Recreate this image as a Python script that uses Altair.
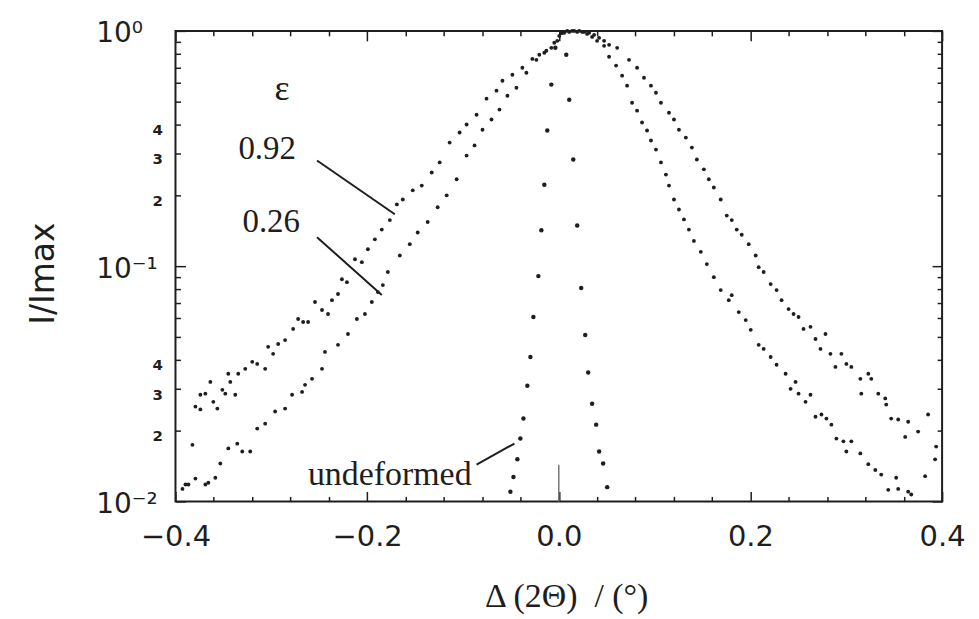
import altair as alt
import pandas as pd

# ---- data: (delta 2theta in deg, I/Imax) ----
pts_092 = [
    (-0.3823, 0.0174), (-0.3792, 0.0253), (-0.3740, 0.0284), (-0.3740, 0.0246), (-0.3688, 0.0287),
    (-0.3636, 0.0322), (-0.3605, 0.0265), (-0.3563, 0.0248), (-0.3511, 0.0298), (-0.3480, 0.0287),
    (-0.3449, 0.0349), (-0.3428, 0.0322), (-0.3376, 0.0284), (-0.3345, 0.0349), (-0.3272, 0.0366),
    (-0.3199, 0.0392), (-0.3147, 0.0384), (-0.3064, 0.0366), (-0.3033, 0.0454), (-0.2981, 0.0424),
    (-0.2928, 0.0467), (-0.2856, 0.0485), (-0.2772, 0.0541), (-0.2720, 0.0596), (-0.2668, 0.0579),
    (-0.2616, 0.0579), (-0.2544, 0.0704), (-0.2471, 0.0651), (-0.2408, 0.0626), (-0.2367, 0.0717),
    (-0.2304, 0.0761), (-0.2263, 0.0880), (-0.2211, 0.0855), (-0.2127, 0.107), (-0.2055, 0.104),
    (-0.1992, 0.118), (-0.1919, 0.130), (-0.1847, 0.143), (-0.1763, 0.157), (-0.1690, 0.183),
    (-0.1628, 0.192), (-0.1524, 0.210), (-0.1430, 0.220), (-0.1326, 0.250), (-0.1243, 0.276),
    (-0.1139, 0.335), (-0.1035, 0.370), (-0.0962, 0.400), (-0.0858, 0.440), (-0.0754, 0.515),
    (-0.0650, 0.557), (-0.0588, 0.614), (-0.0484, 0.651), (-0.0380, 0.697), (-0.0276, 0.760),
    (-0.0203, 0.792), (-0.0130, 0.823), (-0.0047, 0.890), (0.0005, 0.952), (0.0057, 0.981),
    (0.0109, 0.990), (0.0161, 1.0), (0.0213, 1.0), (0.0265, 0.990), (0.0317, 0.981),
    (0.0369, 0.962), (0.0421, 0.934), (0.0473, 0.907), (0.0525, 0.872), (0.0609, 0.847),
    (0.0733, 0.753), (0.0817, 0.697), (0.0889, 0.632), (0.0962, 0.585), (0.1014, 0.546),
    (0.1066, 0.495), (0.1150, 0.449), (0.1202, 0.420), (0.1254, 0.380), (0.1326, 0.352),
    (0.1389, 0.319), (0.1441, 0.284), (0.1514, 0.258), (0.1566, 0.234), (0.1618, 0.216),
    (0.1690, 0.192), (0.1753, 0.164), (0.1805, 0.157), (0.1857, 0.143), (0.1909, 0.136),
    (0.1982, 0.124), (0.2055, 0.111), (0.2086, 0.099), (0.2138, 0.0944), (0.2211, 0.0839),
    (0.2273, 0.0791), (0.2325, 0.0717), (0.2398, 0.0657), (0.2450, 0.0626), (0.2502, 0.0608),
    (0.2554, 0.0541), (0.2627, 0.0552), (0.2679, 0.0490), (0.2731, 0.0445), (0.2783, 0.0515),
    (0.2835, 0.0424), (0.2887, 0.0373), (0.2949, 0.0424), (0.3001, 0.0384), (0.3053, 0.0373),
    (0.3147, 0.0332), (0.3157, 0.0287), (0.3230, 0.0349), (0.3261, 0.0332), (0.3334, 0.0287),
    (0.3407, 0.0274), (0.3417, 0.0258), (0.3469, 0.0225), (0.3542, 0.0223), (0.3615, 0.0188),
    (0.3646, 0.0218), (0.3750, 0.0198), (0.3823, 0.0128), (0.3854, 0.0234), (0.3927, 0.0151),
    (0.3938, 0.0171),
]

pts_026 = [
    (-0.3927, 0.0113), (-0.3896, 0.0118), (-0.3865, 0.0118), (-0.3792, 0.0125), (-0.3688, 0.0118),
    (-0.3657, 0.0120), (-0.3584, 0.0126), (-0.3532, 0.0145), (-0.3449, 0.0168), (-0.3355, 0.0176),
    (-0.3303, 0.0163), (-0.3220, 0.0163), (-0.3147, 0.0204), (-0.3064, 0.0214), (-0.2960, 0.0241),
    (-0.2856, 0.0248), (-0.2783, 0.0284), (-0.2679, 0.0292), (-0.2648, 0.0313), (-0.2575, 0.0332),
    (-0.2471, 0.0366), (-0.2440, 0.0432), (-0.2304, 0.0463), (-0.2200, 0.0515), (-0.2107, 0.0596),
    (-0.2023, 0.0626), (-0.1951, 0.0704), (-0.1888, 0.0776), (-0.1836, 0.0831), (-0.1784, 0.0944),
    (-0.1659, 0.111), (-0.1555, 0.124), (-0.1472, 0.139), (-0.1368, 0.154), (-0.1264, 0.178),
    (-0.1170, 0.200), (-0.1066, 0.234), (-0.0962, 0.295), (-0.0879, 0.326), (-0.0796, 0.380),
    (-0.0702, 0.420), (-0.0619, 0.463), (-0.0536, 0.530), (-0.0442, 0.573), (-0.0338, 0.664),
    (-0.0234, 0.753), (-0.0151, 0.807), (-0.0078, 0.847), (-0.0016, 0.907), (0.0036, 0.981),
    (0.0088, 1.0), (0.0140, 1.0), (0.0192, 0.990), (0.0244, 0.990), (0.0296, 0.971),
    (0.0348, 0.943), (0.0400, 0.907), (0.0473, 0.864), (0.0525, 0.776), (0.0598, 0.712),
    (0.0661, 0.645), (0.0713, 0.585), (0.0765, 0.495), (0.0817, 0.458), (0.0869, 0.408),
    (0.0921, 0.377), (0.0962, 0.342), (0.1014, 0.313), (0.1066, 0.276), (0.1118, 0.245),
    (0.1150, 0.220), (0.1202, 0.192), (0.1254, 0.174), (0.1306, 0.158), (0.1358, 0.143),
    (0.1410, 0.128), (0.1482, 0.115), (0.1545, 0.102), (0.1618, 0.0898), (0.1690, 0.0791),
    (0.1774, 0.0717), (0.1805, 0.0753), (0.1878, 0.0638), (0.1951, 0.0590), (0.2003, 0.0536),
    (0.2086, 0.0463), (0.2138, 0.0445), (0.2211, 0.0411), (0.2273, 0.0381), (0.2367, 0.0349),
    (0.2419, 0.0301), (0.2471, 0.0322), (0.2502, 0.0287), (0.2575, 0.0265), (0.2627, 0.0284),
    (0.2679, 0.0229), (0.2741, 0.0234), (0.2793, 0.0225), (0.2845, 0.0212), (0.2897, 0.0185),
    (0.2970, 0.0180), (0.3001, 0.0163), (0.3053, 0.0180), (0.3147, 0.0160), (0.3230, 0.0144),
    (0.3303, 0.0136), (0.3365, 0.0130), (0.3438, 0.0112), (0.3521, 0.0126), (0.3542, 0.0113),
    (0.3646, 0.0110), (0.3678, 0.0107),
]

pts_und = [
    (-0.0505, 0.0110), (-0.0473, 0.0127), (-0.0432, 0.0151), (-0.0401, 0.0185), (-0.0369, 0.0225),
    (-0.0328, 0.0310), (-0.0296, 0.0411), (-0.0265, 0.0608), (-0.0213, 0.0907), (-0.0182, 0.142),
    (-0.0151, 0.222), (-0.0120, 0.377), (-0.0078, 0.591), (-0.0036, 0.847), (0.0026, 0.981),
    (0.0078, 0.792), (0.0109, 0.510), (0.0151, 0.284), (0.0192, 0.149), (0.0234, 0.0807),
    (0.0276, 0.0510), (0.0307, 0.0353), (0.0348, 0.0260), (0.0390, 0.0212), (0.0421, 0.0163),
    (0.0463, 0.0145), (0.0505, 0.0115),
]

# ---- axis tick values / labels ----
x_label_values = [-0.4, -0.2, 0.0, 0.2, 0.4]
x_tick_values = [-0.4, -0.36, -0.32, -0.28, -0.24, -0.2, -0.16, -0.12, -0.08, -0.04, 0.0,
                 0.04, 0.08, 0.12, 0.16, 0.2, 0.24, 0.28, 0.32, 0.36, 0.4]
y_tick_values = [0.01, 0.02, 0.03, 0.04, 0.05, 0.06, 0.07, 0.08, 0.09,
                 0.1, 0.2, 0.3, 0.4, 0.5, 0.6, 0.7, 0.8, 0.9, 1.0]

# ---- annotations ----
eps_text = [{"x": -0.2887, "y": 0.510, "t": "ε"}]
num_texts = [{"x": -0.3043, "y": 0.284, "t": "0.92"},
             {"x": -0.3001, "y": 0.1393, "t": "0.26"}]
und_text = [{"x": -0.0910, "y": 0.0117, "t": "undeformed"}]
leaders = [{"x": -0.2523, "y": 0.2813, "x2": -0.1711, "y2": 0.1661},
           {"x": -0.2523, "y": 0.1327, "x2": -0.1847, "y2": 0.0754},
           {"x": -0.0858, "y": 0.01435, "x2": -0.0463, "y2": 0.01762}]
zero_mark = [{"x": 0.0, "y": 0.01, "y2": 0.0143}]

W, H = 769, 472
INK = "#1e1e1e"

df092 = pd.DataFrame(pts_092, columns=["x", "i"])
df026 = pd.DataFrame(pts_026, columns=["x", "i"])
dfund = pd.DataFrame(pts_und, columns=["x", "i"])

xs = alt.Scale(domain=[-0.4, 0.4], nice=False, zero=False)
ys = alt.Scale(type="log", domain=[0.01, 1.0], nice=False)

DEC = "abs(log(datum.value)/LN10 - round(log(datum.value)/LN10)) < 0.001"
XMAJ = "abs(datum.value*5 - round(datum.value*5)) < 0.001"
MANT = "round(datum.value / pow(10, floor(log(datum.value)/LN10 + 0.0001)))"
y_label_expr = (
    "abs(datum.value-1) < 1e-6 ? '10⁰' : "
    "abs(datum.value-0.1) < 1e-6 ? '10⁻¹' : "
    "abs(datum.value-0.01) < 1e-6 ? '10⁻²' : "
    f"({MANT} <= 4 ? '' + {MANT} : '')"
)

x_main_axis = alt.Axis(
    values=x_label_values, format=".1f", ticks=False, tickSize=0, domain=False, grid=False,
    labelFont="DejaVu Sans", labelFontSize=29, labelColor=INK, labelPadding=21,
    labelFlush=False, labelOverlap=False,
    title="Δ (2Θ)\u00a0 / (°)", titleFont="Liberation Serif", titleFontSize=34,
    titleFontWeight="normal", titleColor=INK, titleX=392, titleY=105,
    titleBaseline="alphabetic", titleAlign="center", orient="bottom",
)
y_main_axis = alt.Axis(
    values=y_tick_values, labelExpr=y_label_expr, ticks=False, tickSize=0, domain=False, grid=False,
    labelFont="DejaVu Sans", labelColor=INK, labelFlush=False, labelOverlap=False,
    labelFontSize={"condition": {"test": DEC, "value": 28}, "value": 15},
    labelFontWeight={"condition": {"test": DEC, "value": "normal"}, "value": "bold"},
    labelAlign={"condition": {"test": DEC, "value": "left"}, "value": "right"},
    labelPadding={"condition": {"test": DEC, "value": 80}, "value": 13},
    labelOffset={"condition": {"test": DEC, "value": 3}, "value": 5},
    labelBaseline="middle",
    title="I/Imax", titleFont="DejaVu Sans", titleFontSize=33, titleFontWeight="normal",
    titleColor=INK, titleX=-122, titleY=243, titleBaseline="alphabetic", titleAlign="center",
    titleAngle=270, orient="left",
)


def tick_axis(orient, values, major_test, offset):
    return alt.Axis(
        orient=orient, offset=offset, values=values, labels=False, domain=False, grid=False,
        title=None, tickColor=INK, tickWidth=1.5,
        tickSize={"condition": {"test": major_test, "value": 10}, "value": 5},
    )


pt_main = alt.Chart(df092).mark_circle(size=15, color=INK, opacity=1).encode(
    x=alt.X("x:Q", scale=xs, axis=x_main_axis),
    y=alt.Y("i:Q", scale=ys, axis=y_main_axis),
)
pt_026 = alt.Chart(df026).mark_circle(size=15, color=INK, opacity=1).encode(
    x=alt.X("x:Q", scale=xs, axis=tick_axis("top", x_tick_values, XMAJ, -H)),
    y=alt.Y("i:Q", scale=ys, axis=tick_axis("right", y_tick_values, DEC, -W)),
)
pt_und = alt.Chart(dfund).mark_circle(size=20, color=INK, opacity=1).encode(
    x=alt.X("x:Q", scale=xs, axis=tick_axis("bottom", x_tick_values, XMAJ, -H)),
    y=alt.Y("i:Q", scale=ys, axis=tick_axis("left", y_tick_values, DEC, -W)),
)

lead = alt.Chart(pd.DataFrame(leaders)).mark_rule(color=INK, strokeWidth=2).encode(
    x=alt.X("x:Q", scale=xs, axis=None), x2="x2:Q",
    y=alt.Y("y:Q", scale=ys, axis=None), y2="y2:Q",
)
zero = alt.Chart(pd.DataFrame(zero_mark)).mark_rule(color="#777777", strokeWidth=1.5).encode(
    x=alt.X("x:Q", scale=xs, axis=None),
    y=alt.Y("y:Q", scale=ys, axis=None), y2="y2:Q",
)
t_eps = alt.Chart(pd.DataFrame(eps_text)).mark_text(
    font="Liberation Serif", fontSize=36, color=INK, align="center", baseline="alphabetic"
).encode(x=alt.X("x:Q", scale=xs, axis=None), y=alt.Y("y:Q", scale=ys, axis=None), text="t:N")
t_num = alt.Chart(pd.DataFrame(num_texts)).mark_text(
    font="Liberation Serif", fontSize=33, color=INK, align="center", baseline="alphabetic"
).encode(x=alt.X("x:Q", scale=xs, axis=None), y=alt.Y("y:Q", scale=ys, axis=None), text="t:N")
t_und = alt.Chart(pd.DataFrame(und_text)).mark_text(
    font="Liberation Serif", fontSize=34, color=INK, align="right", baseline="alphabetic"
).encode(x=alt.X("x:Q", scale=xs, axis=None), y=alt.Y("y:Q", scale=ys, axis=None), text="t:N")

chart = (
    alt.layer(pt_main, pt_026, pt_und, lead, zero, t_eps, t_num, t_und)
    .resolve_axis(x="independent", y="independent")
    .properties(width=W, height=H, padding={"left": 20, "top": 11, "right": 5, "bottom": 5},
                background="white")
    .configure_view(stroke=INK, strokeWidth=2)
)

chart.save("out.html", embed_options={"renderer": "svg", "actions": False})
